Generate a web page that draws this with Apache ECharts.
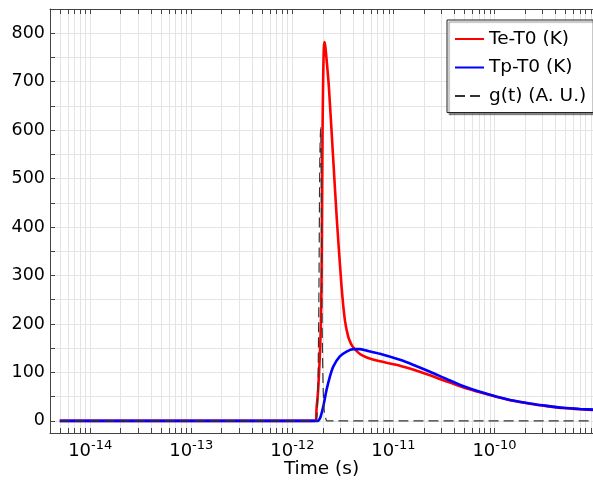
<!DOCTYPE html>
<html><head><meta charset="utf-8">
<script src="https://cdn.jsdelivr.net/npm/echarts@6/dist/echarts.min.js"></script>
<style>html,body{margin:0;padding:0;background:#fff}#c{width:593px;height:482px}</style>
</head><body><div id="c"></div>
<script>
// ---- data (time in seconds) ----
const teTime = [5e-15, 1.67e-12, 1.74e-12, 1.80e-12, 1.87e-12, 1.915e-12, 1.945e-12, 1.967e-12, 1.99e-12, 2.02e-12, 2.05e-12, 2.08e-12, 2.122e-12, 2.195e-12, 2.298e-12, 2.518e-12, 2.759e-12, 3.07e-12, 3.31e-12, 3.57e-12, 3.79e-12, 4.0e-12, 4.66e-12, 5.45e-12, 7.35e-12, 1.16e-11, 1.56e-11, 2.3e-11, 3.39e-11, 4.88e-11, 7.18e-11, 1.06e-10, 1.52e-10, 2.24e-10, 3.31e-10, 4.76e-10, 7.03e-10, 1e-9];
const teVal  = [0, 0, 29, 64, 133, 200, 290, 450, 600, 710, 770, 782, 772, 740, 690, 552, 414, 277, 208, 174, 160, 152, 138, 131, 123, 114, 106, 94, 81, 69.5, 59, 49.5, 41.5, 35.5, 30.5, 26.5, 24, 22.5];

const tpTime = [5e-15, 1.80e-12, 1.83e-12, 1.9e-12, 2.02e-12, 2.18e-12, 2.35e-12, 2.54e-12, 2.95e-12, 3.44e-12, 4.0e-12, 4.66e-12, 5.45e-12, 7.35e-12, 1.16e-11, 1.56e-11, 2.3e-11, 3.39e-11, 4.88e-11, 7.18e-11, 1.06e-10, 1.52e-10, 2.24e-10, 3.31e-10, 4.76e-10, 7.03e-10, 1e-9];
const tpVal  = [0, 0, 1.5, 8, 29, 64, 91, 112, 133, 143, 148, 148, 145, 138.5, 126, 116, 101.5, 86, 72, 60, 50, 42, 36, 31, 27, 24.5, 23];

const gTime = [5e-15, 1.72e-12, 1.75e-12, 1.79e-12, 1.83e-12, 1.87e-12, 1.905e-12, 1.937e-12, 1.97e-12, 2.02e-12, 2.07e-12, 2.14e-12, 2.2e-12, 1e-9];
const gVal  = [0, 0, 5, 60, 249, 540, 605, 450, 200, 64, 20, 5, 0, 0];

const xMajorExponents = [-14, -13, -12, -11, -10];
const yTickLabels = [0, 100, 200, 300, 400, 500, 600, 700, 800];
const yTicksAll = [0, 50, 100, 150, 200, 250, 300, 350, 400, 450, 500, 550, 600, 650, 700, 750, 800];

// ---- build ----
const lg = Math.log10;
const xLo = lg(4e-15), xHi = lg(9.44e-10);
const xTicksAll = [];
for (let e = -15; e <= -10; e++) for (let k = 1; k <= 9; k++) {
  const v = lg(k) + e;
  if (v >= xLo && v <= xHi) xTicksAll.push(v);
}
const zip = (t, v) => t.map((x, i) => [lg(x), v[i]]);
const FONT = 'DejaVu Sans';
const AX = '#444';
const GRID = '#e4e4e4';

const chart = echarts.init(document.getElementById('c'));
chart.setOption({
  animation: false,
  backgroundColor: '#fff',
  grid: { left: 50, right: 0, top: 9, bottom: 49, outerBoundsMode: 'none', containLabel: false },
  xAxis: [{
    type: 'value', position: 'bottom', min: xLo, max: xHi,
    axisLine: { show: true, onZero: false, lineStyle: { color: AX, width: 1 } },
    axisTick: { show: true, inside: true, length: 5, customValues: xTicksAll, lineStyle: { color: AX } },
    axisLabel: {
      customValues: xMajorExponents, margin: 6,
      formatter: v => '{b|10}{s|' + Math.round(v) + '}',
      rich: {
        b: { fontSize: 18, fontFamily: FONT, color: '#000' },
        s: { fontSize: 13, fontFamily: FONT, color: '#000', padding: [0, 0, 12, 0] }
      }
    },
    splitLine: { show: true, lineStyle: { color: GRID, width: 1 } },
    name: 'Time (s)', nameLocation: 'middle', nameGap: 27, nameMoveOverlap: false,
    nameTextStyle: { fontSize: 18.5, fontFamily: FONT, color: '#000' }
  }, {
    type: 'value', position: 'top', min: xLo, max: xHi,
    axisLine: { show: true, onZero: false, lineStyle: { color: AX, width: 1 } },
    axisTick: { show: true, inside: true, length: 5, customValues: xTicksAll, lineStyle: { color: AX } },
    axisLabel: { show: false },
    splitLine: { show: false }
  }],
  yAxis: [{
    type: 'value', position: 'left', min: -25, max: 850,
    axisLine: { show: true, onZero: false, lineStyle: { color: AX, width: 1 } },
    axisTick: { show: true, inside: true, length: 5, customValues: yTicksAll, lineStyle: { color: AX } },
    axisLabel: { customValues: yTickLabels, fontSize: 17.5, fontFamily: FONT, color: '#000', margin: 5 },
    splitLine: { show: true, lineStyle: { color: GRID, width: 1 } }
  }],
  legend: {
    orient: 'vertical', left: 447, top: 20,
    padding: [9.5, 7, 7, 7],
    itemWidth: 29, itemHeight: 18, itemGap: 9.5,
    backgroundColor: '#fff', borderColor: '#222', borderWidth: 1,
    shadowColor: 'rgba(0,0,0,0.45)', shadowBlur: 1, shadowOffsetX: 2, shadowOffsetY: 2,
    itemStyle: { opacity: 0, borderWidth: 0 },
    textStyle: { fontSize: 18.5, fontFamily: FONT, color: '#000', lineHeight: 19 },
    data: ['Te-T0 (K)', 'Tp-T0 (K)', 'g(t) (A. U.)']
  },
  series: [{
    name: 'Te-T0 (K)', type: 'line', data: zip(teTime, teVal), showSymbol: false, symbol: 'none',
    smooth: 0.25,
    lineStyle: { color: '#ff0000', width: 2.6 }, itemStyle: { color: '#ff0000' }
  }, {
    name: 'Tp-T0 (K)', type: 'line', data: zip(tpTime, tpVal), showSymbol: false, symbol: 'none',
    smooth: 0.25,
    lineStyle: { color: '#0000ff', width: 2.6 }, itemStyle: { color: '#0000ff' }
  }, {
    name: 'g(t) (A. U.)', type: 'line', data: zip(gTime, gVal), showSymbol: false, symbol: 'none',
    smooth: 0.25,
    lineStyle: { color: '#333', width: 1.2, type: [10, 5] }, itemStyle: { color: '#333' }
  }]
});
</script></body></html>
